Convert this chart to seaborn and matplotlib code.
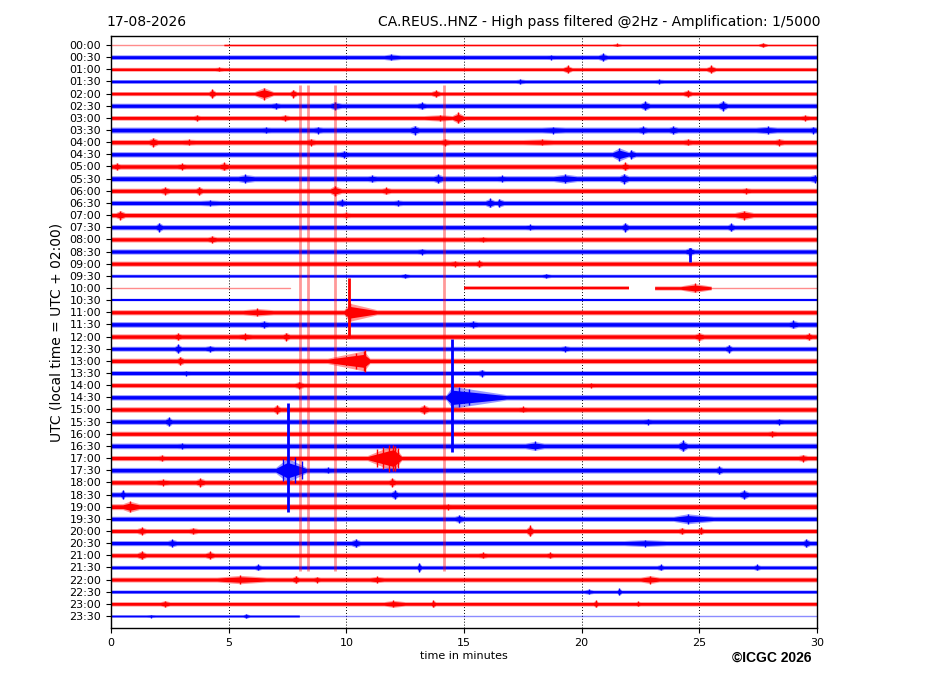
import matplotlib
matplotlib.use("Agg")
import numpy as np
import pandas as pd
import matplotlib.pyplot as plt
import seaborn as sns

# ----------------------------
# Data read off the helicorder
# ----------------------------

row_labels = [f"{h:02d}:{m:02d}" for h in range(24) for m in (0, 30)]
row_colors = ["red" if i % 2 == 0 else "blue" for i in range(len(row_labels))]

# background noise half-amplitude of each trace (screen counts)
base_amp = [0.8, 1.8, 1.5, 1.5, 1.6, 2.0, 1.8, 2.3, 2.1, 2.1,
            2.1, 2.3, 2.0, 2.0, 2.0, 2.0, 2.0, 2.0, 2.0, 1.3,
            1.6, 0.0, 2.0, 2.2, 2.1, 1.9, 2.1, 1.9, 1.9, 2.1,
            2.1, 2.1, 2.0, 2.2, 2.0, 2.2, 2.1, 2.1, 2.3, 2.0,
            1.9, 2.0, 1.9, 1.6, 1.9, 1.4, 1.7, 1.0]

# bursts: (row, start min, peak min, end min, peak half-amplitude)
events = [
    (0, 21.3, 21.5, 21.7, 1.5), (0, 27.5, 27.7, 27.9, 2.2),
    (1, 11.6, 11.9, 12.3, 3.2), (1, 18.5, 18.7, 18.9, 2.4), (1, 20.7, 20.9, 21.1, 3.8),
    (2, 4.4, 4.6, 4.8, 2.2), (2, 19.2, 19.4, 19.6, 3.8), (2, 25.3, 25.5, 25.7, 3.8),
    (3, 17.2, 17.4, 17.6, 2.4), (3, 23.1, 23.3, 23.5, 2.2),
    (4, 4.15, 4.3, 4.45, 4.5), (4, 6.1, 6.5, 6.9, 6.0), (4, 7.6, 7.75, 7.9, 4.0),
    (4, 13.6, 13.8, 14.0, 3.5), (4, 24.3, 24.5, 24.7, 3.5),
    (5, 6.8, 7.0, 7.2, 3.2), (5, 9.3, 9.5, 9.8, 4.0), (5, 13.0, 13.2, 13.4, 3.5),
    (5, 22.5, 22.7, 22.9, 4.5), (5, 25.8, 26.0, 26.2, 5.0),
    (6, 3.5, 3.65, 3.8, 3.0), (6, 7.2, 7.4, 7.6, 3.0), (6, 13.3, 14.0, 14.5, 3.2),
    (6, 14.5, 14.75, 15.0, 5.5), (6, 29.3, 29.5, 29.7, 2.8),
    (7, 6.4, 6.6, 6.8, 3.2), (7, 8.6, 8.8, 9.0, 3.5), (7, 12.7, 12.9, 13.1, 4.5),
    (7, 18.3, 18.8, 19.3, 3.5), (7, 22.4, 22.6, 22.8, 3.8), (7, 23.7, 23.9, 24.1, 4.0),
    (7, 27.4, 27.9, 28.3, 3.8), (7, 29.7, 29.85, 30.0, 3.5),
    (8, 1.6, 1.8, 2.0, 4.5), (8, 3.0, 3.3, 3.6, 3.0), (8, 8.3, 8.5, 8.7, 3.5),
    (8, 14.0, 14.2, 14.4, 3.5), (8, 17.5, 18.3, 18.8, 3.2), (8, 24.3, 24.5, 24.7, 3.2),
    (8, 28.2, 28.4, 28.6, 3.5),
    (9, 9.7, 9.9, 10.1, 3.5), (9, 21.3, 21.6, 22.0, 6.5), (9, 22.0, 22.1, 22.3, 4.5),
    (10, 0.1, 0.25, 0.4, 3.5), (10, 2.8, 3.0, 3.2, 3.2), (10, 4.6, 4.8, 5.0, 4.0),
    (10, 21.7, 21.85, 22.0, 4.0),
    (11, 5.4, 5.7, 6.1, 4.2), (11, 10.9, 11.1, 11.3, 3.5), (11, 13.7, 13.9, 14.1, 4.5),
    (11, 16.4, 16.6, 16.8, 3.2), (11, 18.8, 19.3, 19.8, 4.5), (11, 21.6, 21.8, 22.0, 5.0),
    (11, 29.7, 29.9, 30.0, 4.0),
    (12, 2.1, 2.3, 2.5, 3.8), (12, 3.6, 3.75, 3.9, 4.2), (12, 9.3, 9.5, 9.8, 5.0),
    (12, 11.5, 11.7, 11.9, 3.5), (12, 26.8, 27.0, 27.2, 3.0),
    (13, 3.8, 4.2, 4.6, 3.0), (13, 9.6, 9.8, 10.0, 3.5), (13, 12.0, 12.2, 12.4, 3.0),
    (13, 15.9, 16.1, 16.3, 4.5), (13, 16.4, 16.5, 16.7, 4.2),
    (14, 0.2, 0.4, 0.6, 4.5), (14, 9.8, 10.0, 10.2, 2.8), (14, 26.5, 26.9, 27.3, 4.5),
    (15, 1.9, 2.05, 2.2, 4.5), (15, 17.6, 17.8, 18.0, 2.8), (15, 21.7, 21.85, 22.0, 4.5),
    (15, 26.2, 26.35, 26.5, 4.0),
    (16, 4.1, 4.3, 4.5, 3.5), (16, 15.6, 15.8, 16.0, 2.8),
    (17, 13.0, 13.2, 13.4, 3.0), (17, 24.4, 24.6, 24.8, 4.0),
    (18, 14.4, 14.6, 14.8, 3.0), (18, 15.5, 15.65, 15.8, 3.5),
    (19, 12.3, 12.5, 12.7, 2.3), (19, 18.3, 18.5, 18.7, 2.3),
    (20, 24.2, 24.8, 25.45, 4.5),
    (22, 5.6, 6.2, 6.9, 3.8), (22, 9.9, 10.15, 11.3, 9.0),
    (23, 6.3, 6.5, 6.7, 3.5), (23, 15.2, 15.4, 15.6, 3.5), (23, 28.8, 29.0, 29.2, 4.0),
    (24, 2.7, 2.85, 3.0, 3.5), (24, 5.4, 5.7, 6.0, 3.2), (24, 7.3, 7.45, 7.6, 4.0),
    (24, 24.8, 25.0, 25.2, 4.0), (24, 29.5, 29.65, 29.8, 3.5),
    (25, 2.7, 2.85, 3.0, 4.5), (25, 4.0, 4.2, 4.4, 3.2), (25, 19.1, 19.3, 19.5, 3.0),
    (25, 26.1, 26.25, 26.4, 4.0),
    (26, 2.8, 2.95, 3.1, 4.2), (26, 9.2, 10.75, 11.0, 10.0),
    (27, 3.0, 3.2, 3.4, 2.5), (27, 15.6, 15.75, 15.9, 3.5),
    (28, 7.8, 8.0, 8.2, 3.5), (28, 20.2, 20.4, 20.6, 2.5),
    (29, 14.25, 14.5, 16.8, 11.0),
    (30, 6.9, 7.05, 7.2, 4.5), (30, 13.1, 13.3, 13.5, 4.5), (30, 17.3, 17.5, 17.7, 3.0),
    (31, 2.3, 2.45, 2.6, 4.5), (31, 22.6, 22.8, 23.0, 3.0), (31, 28.2, 28.4, 28.6, 3.0),
    (32, 27.9, 28.1, 28.3, 3.0),
    (33, 2.8, 3.0, 3.2, 3.0), (33, 17.6, 18.0, 18.4, 4.5), (33, 24.1, 24.3, 24.5, 5.5),
    (34, 2.0, 2.15, 2.3, 3.0), (34, 10.9, 12.0, 12.35, 13.0), (34, 29.2, 29.4, 29.6, 3.5),
    (35, 7.0, 7.5, 8.3, 12.0), (35, 9.0, 9.2, 9.4, 3.0), (35, 25.7, 25.85, 26.0, 4.0),
    (36, 1.9, 2.2, 2.5, 3.2), (36, 3.6, 3.8, 4.0, 4.2), (36, 11.8, 11.95, 12.1, 4.2),
    (37, 0.4, 0.5, 0.6, 4.5), (37, 11.9, 12.05, 12.2, 4.5), (37, 26.7, 26.9, 27.1, 4.5),
    (38, 0.5, 0.8, 1.2, 5.5), (38, 14.1, 14.3, 14.5, 3.0),
    (39, 14.6, 14.8, 15.0, 3.8), (39, 23.9, 24.5, 25.6, 5.0),
    (40, 1.1, 1.3, 1.5, 3.8), (40, 3.3, 3.5, 3.7, 3.2), (40, 17.65, 17.8, 17.95, 5.5),
    (40, 24.1, 24.25, 24.4, 3.2), (40, 24.9, 25.05, 25.2, 3.5),
    (41, 2.4, 2.6, 2.8, 3.8), (41, 10.2, 10.4, 10.6, 4.2), (41, 21.8, 22.7, 23.6, 3.5),
    (41, 29.4, 29.55, 29.7, 4.2),
    (42, 1.1, 1.3, 1.5, 4.2), (42, 4.0, 4.2, 4.4, 3.8), (42, 15.6, 15.8, 16.0, 3.0),
    (42, 18.5, 18.65, 18.8, 3.0),
    (43, 6.1, 6.25, 6.4, 3.0), (43, 13.0, 13.1, 13.2, 4.5), (43, 23.2, 23.35, 23.5, 3.0),
    (43, 27.3, 27.45, 27.6, 3.0),
    (44, 4.5, 5.5, 6.6, 4.2), (44, 7.7, 7.85, 8.0, 3.8), (44, 8.6, 8.75, 8.9, 3.0),
    (44, 11.0, 11.3, 11.6, 3.2), (44, 22.5, 22.9, 23.3, 4.0),
    (45, 20.1, 20.3, 20.5, 2.5), (45, 21.5, 21.6, 21.7, 3.5),
    (46, 2.1, 2.3, 2.5, 3.2), (46, 11.6, 12.0, 12.5, 3.5), (46, 13.6, 13.7, 13.8, 3.5),
    (46, 20.5, 20.6, 20.7, 3.5), (46, 22.3, 22.4, 22.5, 2.5),
    (47, 1.5, 1.7, 1.9, 1.5), (47, 5.6, 5.75, 5.9, 2.2),
]

# strongest swings inside the larger bursts: (row, minute, half-amplitude)
burst_swings = [(34, 11.3, 9.0), (34, 11.55, 11.0), (34, 11.8, 13.5), (34, 12.05, 12.5),
                (34, 12.2, 10.0), (26, 10.4, 8.0), (26, 10.8, 11.0), (35, 7.3, 11.0),
                (35, 7.8, 13.0), (35, 8.1, 9.0), (29, 14.8, 10.0), (29, 15.2, 8.0)]

# big first arrivals: (row, minute, rows reached above, rows reached below)
spikes = [(22, 10.1, 2.8, 2.1), (29, 14.5, 4.8, 4.5),
          (35, 7.5, 5.5, 3.4), (17, 24.6, 0.3, 0.9)]

# rows where the signal is only partly recorded (minute spans with noise)
band_spans = {0: [(4.8, 30.0)], 20: [(15.0, 22.0), (23.1, 25.5)],
              21: [], 47: [(0.0, 8.0)]}

# flat (dead) stretches: (row, start, end)
flat_spans = [(0, 0.0, 4.8), (20, 0.0, 7.6), (20, 25.5, 30.0),
              (21, 0.0, 30.0), (47, 8.0, 30.0)]

# long glitch lines crossing many rows
glitch_minutes = [8.03, 8.37, 9.52, 14.15]
glitch_rows = (3.3, 43.3)

PX_PER_ROW = 12.15


def envelope(row, t0, t1, core=1.0, burst=1.0):
    base = base_amp[row] * core
    xs, ys = [t0], [base]
    for r, a, p, b, amp in sorted(e for e in events if e[0] == row):
        if a >= t0 and b <= t1:
            xs += [a, p, b]
            ys += [base, max(base, amp * burst), base]
    xs.append(t1)
    ys.append(base)
    return np.array(xs), np.array(ys) / PX_PER_ROW


# ----------------------------
# Plot
# ----------------------------
sns.set_theme(style="ticks", rc={
    "axes.edgecolor": "black", "axes.linewidth": 1.0,
    "xtick.color": "black", "ytick.color": "black",
    "text.color": "black", "axes.labelcolor": "black",
    "xtick.major.width": 0.8, "ytick.major.width": 0.8,
    "xtick.major.size": 3.5, "ytick.major.size": 3.5,
})
plt.rcParams["font.family"] = ["DejaVu Sans"]

fig = plt.figure(figsize=(9.27, 6.96), dpi=100)
ax = fig.add_axes([111 / 927, 1 - 628 / 696, 706 / 927, 592 / 696])

for x in range(5, 30, 5):
    ax.axvline(x, color="black", lw=0.7, ls=(0, (1, 2)), zorder=0)

for i, col in enumerate(row_colors):
    y0 = -i
    for t0, t1 in band_spans.get(i, [(0.0, 30.0)]):
        # soft fringe, then solid core of the noise band
        xs, ys = envelope(i, t0, t1, core=1.3, burst=1.0)
        ax.fill_between(xs, y0 - ys, y0 + ys, color=col, lw=0, alpha=0.4, zorder=1)
        xs, ys = envelope(i, t0, t1, core=0.8, burst=0.65)
        ax.fill_between(xs, y0 - ys, y0 + ys, color=col, lw=0, zorder=2)

# peak of every burst as a thin wiggle stroke
peaks = pd.DataFrame(events, columns=["row", "start", "peak", "end", "amp"])
swings = pd.DataFrame(burst_swings, columns=["row", "peak", "amp"])
for _, ev in pd.concat([peaks, swings]).iterrows():
    r = int(ev["row"])
    h = ev["amp"] / PX_PER_ROW
    ax.vlines(ev["peak"], -r - h, -r + h, color=row_colors[r], lw=1.0, zorder=2)

flat = pd.DataFrame([
    {"t": t, "y": -r, "seg": k, "row": r}
    for k, (r, a, b) in enumerate(flat_spans) for t in (a, b)
])
for k, seg in flat.groupby("seg"):
    r = seg["row"].iloc[0]
    dead = r != 21
    sns.lineplot(data=seg, x="t", y="y", ax=ax, color=row_colors[r],
                 lw=1.0 if dead else 1.6, alpha=0.45 if dead else 1.0,
                 zorder=2, legend=False)

for r, t, up, down in spikes:
    ax.vlines(t, -r - down, -r + up, color=row_colors[r], lw=2.0, zorder=3)

ax.vlines(glitch_minutes, -glitch_rows[1], -glitch_rows[0], color="red",
          lw=2.0, alpha=0.4, zorder=4)

ax.set_xlim(0, 30)
ax.set_ylim(-47 - 12 / PX_PER_ROW, 9 / PX_PER_ROW)
ax.set_xticks(range(0, 31, 5))
ax.set_yticks([-i for i in range(len(row_labels))])
ax.set_yticklabels(row_labels)
ax.tick_params(labelsize=8)
ax.set_xlabel("")
ax.set_ylabel("")

fig.text(106 / 927, 1 - 26 / 696, "17-08-2026", fontsize=10, va="baseline")
fig.text(820 / 927, 1 - 26 / 696,
         "CA.REUS..HNZ - High pass filtered @2Hz - Amplification: 1/5000",
         fontsize=10, ha="right", va="baseline")
fig.text(57 / 927, 1 - 332 / 696, "UTC (local time = UTC + 02:00)",
         fontsize=10, rotation=90, ha="center", va="center")
fig.text(464 / 927, 1 - 656 / 696, "time in minutes", fontsize=8,
         ha="center", va="center")
fig.text(811 / 927, 1 - 658 / 696, "\u00a9ICGC 2026", fontsize=10,
         fontweight="bold", family=["Liberation Sans", "DejaVu Sans"],
         ha="right", va="center")

fig.savefig("out.png", dpi=100)
